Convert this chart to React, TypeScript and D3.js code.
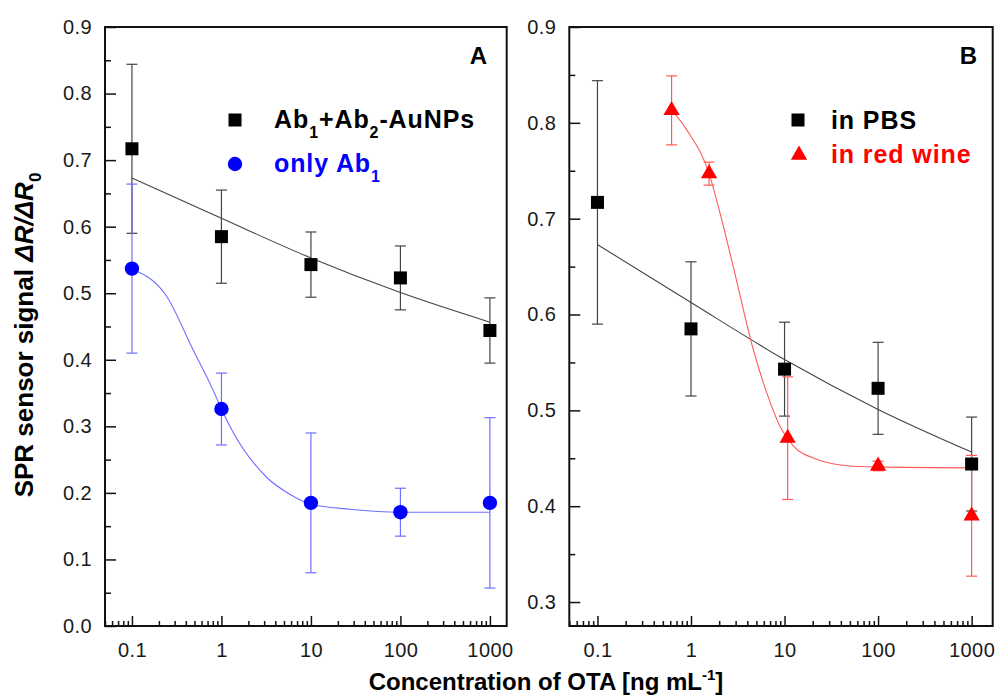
import React, { useEffect, useRef } from "react";
import * as d3 from "d3";

const WIDTH = 996;
const HEIGHT = 700;
const FONT = "'Liberation Sans', Arial, Helvetica, sans-serif";

// OTA concentration (ng/mL)
const conc = [0.1, 1, 10, 100, 1000];
const xTickLabels = ["0.1", "1", "10", "100", "1000"];

// Ab1 + Ab2-AuNPs  (= "in PBS" in panel B)
const pbsMean = [0.717, 0.585, 0.543, 0.523, 0.444];
const pbsErr = [0.127, 0.07, 0.049, 0.048, 0.049];

// only Ab1
const ab1Mean = [0.537, 0.326, 0.185, 0.171, 0.185];
const ab1Err = [0.127, 0.054, 0.105, 0.036, 0.128];

// in red wine
const wineConc = [0.62, 1.56, 10.8, 100, 1000];
const wineMean = [0.813, 0.747, 0.471, 0.442, 0.39];
const wineErr = [0.036, 0.012, 0.064, 0.005, 0.063];

// fitted curves
const pbsFitX = [0.1, 1, 10, 100, 1000];
const pbsFitY = [0.673, 0.6125, 0.553, 0.501, 0.4565];
const ab1FitX = [0.1, 0.244, 0.48, 0.8, 1, 1.35, 3.2, 5.8, 10, 27, 100, 1000];
const ab1FitY = [0.5365, 0.4955, 0.4155, 0.3555, 0.326, 0.291, 0.2235, 0.198, 0.183, 0.1755, 0.171, 0.171];
const wineFitX = [0.62, 0.9, 1.56, 2.04, 2.83, 4.63, 6.44, 8.93, 12.4, 22, 50, 100, 1000];
const wineFitY = [0.8135, 0.7927, 0.747, 0.706, 0.65, 0.5635, 0.5185, 0.4835, 0.463, 0.449, 0.442, 0.441, 0.44];

const yTickLabelsA = ["0.0", "0.1", "0.2", "0.3", "0.4", "0.5", "0.6", "0.7", "0.8", "0.9"];
const yTickLabelsB = ["0.3", "0.4", "0.5", "0.6", "0.7", "0.8", "0.9"];

type Shape = "square" | "circle" | "triangle";
type Series = {
  xs: number[];
  ys: number[];
  errs: number[];
  fitX: number[];
  fitY: number[];
  shape: Shape;
  color: string;
  lineColor: string;
};

const Marker = ({ shape, cx, cy, color }: { shape: Shape; cx: number; cy: number; color: string }) => {
  if (shape === "square") return <rect x={cx - 6.5} y={cy - 6.5} width={13} height={13} fill={color} />;
  if (shape === "circle") return <circle cx={cx} cy={cy} r={7.2} fill={color} />;
  const tri = d3.symbol().type(d3.symbolTriangle).size(115)();
  return <path d={tri || ""} transform={`translate(${cx},${cy})`} fill={color} />;
};

const Panel = ({ frame, xDomain, yDomain, yTickLabels, yMinorCount, series, tag, tagX, legend }: any) => {
  const axesRef = useRef<SVGGElement>(null);
  const { left, right, top, bottom } = frame;
  const x = d3.scaleLog().domain(xDomain).range([left, right]);
  const y = d3.scaleLinear().domain(yDomain).range([bottom, top]);

  useEffect(() => {
    const g = d3.select(axesRef.current);
    g.selectAll("*").remove();
    const yMajor = yTickLabels.map(Number);
    const xMinor = x.ticks().filter((v) => !conc.some((c) => Math.abs(c - v) / c < 1e-6));
    const yMinor = y.ticks(yMinorCount).filter((v) => !yMajor.some((m: number) => Math.abs(m - v) < 1e-6));

    g.append("g")
      .attr("transform", `translate(0,${bottom})`)
      .call(d3.axisBottom(x).tickValues(xMinor).tickSize(-5).tickFormat(() => ""))
      .call((s) => s.select(".domain").remove());
    g.append("g")
      .attr("transform", `translate(0,${bottom})`)
      .call(
        d3.axisBottom(x).tickValues(conc).tickSize(-10).tickPadding(17)
          .tickFormat((_d, i) => xTickLabels[i])
      )
      .call((s) => s.select(".domain").remove());
    g.append("g")
      .attr("transform", `translate(${left},0)`)
      .call(d3.axisLeft(y).tickValues(yMinor).tickSize(-6).tickFormat(() => ""))
      .call((s) => s.select(".domain").remove());
    g.append("g")
      .attr("transform", `translate(${left},0)`)
      .call(
        d3.axisLeft(y).tickValues(yMajor).tickSize(-11).tickPadding(13)
          .tickFormat((_d, i) => yTickLabels[i])
      )
      .call((s) => s.select(".domain").remove());

    g.selectAll(".tick line").attr("stroke", "#111").attr("stroke-width", 1.5);
    g.selectAll(".tick text")
      .attr("font-family", FONT)
      .attr("font-size", 20)
      .attr("letter-spacing", 0.4)
      .attr("fill", "#1a1a1a");
  }, []);

  const line = d3
    .line<[number, number]>()
    .x((d) => x(d[0]))
    .y((d) => y(d[1]))
    .curve(d3.curveMonotoneX);

  return (
    <g>
      {series.map((s: Series, si: number) => (
        <g key={"e" + si} stroke={s.lineColor} strokeWidth={1.2}>
          {s.xs.map((xv, i) => {
            const cx = x(xv);
            const y0 = y(s.ys[i] - s.errs[i]);
            const y1 = y(s.ys[i] + s.errs[i]);
            return (
              <g key={i}>
                <line x1={cx} x2={cx} y1={y0} y2={y1} />
                <line x1={cx - 5.5} x2={cx + 5.5} y1={y0} y2={y0} />
                <line x1={cx - 5.5} x2={cx + 5.5} y1={y1} y2={y1} />
              </g>
            );
          })}
        </g>
      ))}
      {series.map((s: Series, si: number) => (
        <path
          key={"f" + si}
          d={line(s.fitX.map((v, i) => [v, s.fitY[i]] as [number, number])) || ""}
          fill="none"
          stroke={s.lineColor}
          strokeWidth={1.1}
        />
      ))}
      {series.map((s: Series, si: number) => (
        <g key={"m" + si}>
          {s.xs.map((xv, i) => (
            <Marker key={i} shape={s.shape} cx={x(xv)} cy={y(s.ys[i])} color={s.color} />
          ))}
        </g>
      ))}
      <rect
        x={left}
        y={top}
        width={right - left}
        height={bottom - top}
        fill="none"
        stroke="#111"
        strokeWidth={2}
      />
      <g ref={axesRef} />
      <text x={tagX} y={top + 37} textAnchor="end" fontFamily={FONT} fontWeight="bold" fontSize={24}>
        {tag}
      </text>
      {legend.map((l: any, i: number) => (
        <g key={i}>
          <Marker shape={l.shape} cx={l.mx} cy={l.my} color={l.color} />
          <text
            x={l.tx}
            y={l.ty}
            fontFamily={FONT}
            fontWeight="bold"
            fontSize={25}
            letterSpacing={0.9}
            fill={l.color}
          >
            {l.label}
          </text>
        </g>
      ))}
    </g>
  );
};

const sub = (t: string) => [
  <tspan key="s" dy={10} fontSize={16}>{t}</tspan>,
];

const App = () => {
  const pbs: Series = {
    xs: conc, ys: pbsMean, errs: pbsErr, fitX: pbsFitX, fitY: pbsFitY,
    shape: "square", color: "#000", lineColor: "#444",
  };
  const ab1: Series = {
    xs: conc, ys: ab1Mean, errs: ab1Err, fitX: ab1FitX, fitY: ab1FitY,
    shape: "circle", color: "#0000ff", lineColor: "#6f6fff",
  };
  const wine: Series = {
    xs: wineConc, ys: wineMean, errs: wineErr, fitX: wineFitX, fitY: wineFitY,
    shape: "triangle", color: "#ff0000", lineColor: "#ff5a5a",
  };

  const legendA = [
    {
      shape: "square", color: "#000", mx: 235, my: 120, tx: 274, ty: 128,
      label: (
        <>
          Ab{sub("1")}
          <tspan dy={-10}>+Ab</tspan>
          {sub("2")}
          <tspan dy={-10}>-AuNPs</tspan>
        </>
      ),
    },
    {
      shape: "circle", color: "#0000ff", mx: 235, my: 164, tx: 274, ty: 172,
      label: (
        <>
          only Ab{sub("1")}
        </>
      ),
    },
  ];
  const legendB = [
    { shape: "square", color: "#000", mx: 798, my: 120, tx: 831, ty: 129, label: "in PBS" },
    { shape: "triangle", color: "#ff0000", mx: 799, my: 155, tx: 831, ty: 163, label: "in red wine" },
  ];

  return (
    <svg
      width={WIDTH}
      height={HEIGHT}
      style={{ position: "absolute", left: 0, top: 0, background: "#fff" }}
    >
      <Panel
        frame={{ left: 105, right: 506.7, top: 27, bottom: 626 }}
        xDomain={[0.05, 1540]}
        yDomain={[0, 0.9]}
        yTickLabels={yTickLabelsA}
        yMinorCount={18}
        series={[pbs, ab1]}
        tag="A"
        tagX={487}
        legend={legendA}
      />
      <Panel
        frame={{ left: 569.3, right: 992.7, top: 27, bottom: 626 }}
        xDomain={[0.05, 1680]}
        yDomain={[0.275, 0.9]}
        yTickLabels={yTickLabelsB}
        yMinorCount={13}
        series={[pbs, wine]}
        tag="B"
        tagX={977}
        legend={legendB}
      />
      <text
        transform="translate(33,335) rotate(-90)"
        textAnchor="middle"
        fontFamily={FONT}
        fontWeight="bold"
        fontSize={26}
      >
        SPR sensor signal{"  "}
        <tspan fontStyle="italic">ΔR/ΔR</tspan>
        <tspan dy={8} fontSize={17}>0</tspan>
      </text>
      <text x={546} y={690} textAnchor="middle" fontFamily={FONT} fontWeight="bold" fontSize={24}>
        Concentration of OTA [ng mL
        <tspan dy={-10} fontSize={15}>-1</tspan>
        <tspan dy={10}>]</tspan>
      </text>
    </svg>
  );
};

export default App;
